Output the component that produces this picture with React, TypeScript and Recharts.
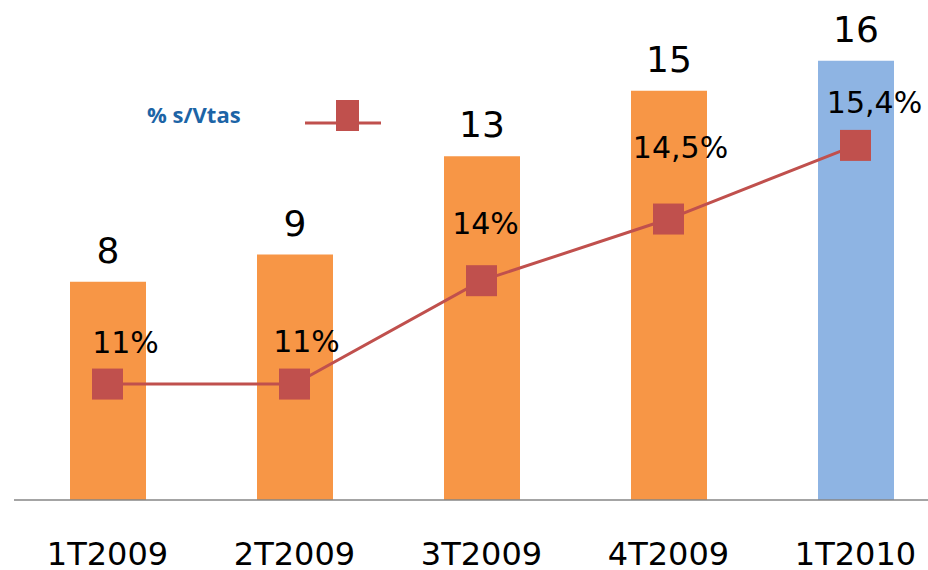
import React from 'react';
import { ComposedChart, Bar, Line, XAxis, YAxis, Cell, LabelList } from 'recharts';

const quarters = ['1T2009', '2T2009', '3T2009', '4T2009', '1T2010'];
// bar heights; labels are shown rounded to whole numbers
const salesValues = [8, 9, 12.6, 15, 16.1];
// plotted height of the % line (same scale as the bars)
const lineLevels = [4.25, 4.25, 8.04, 10.3, 13.0];
const pctLabels = ['11%', '11%', '14%', '14,5%', '15,4%'];

const ORANGE = '#F79646';
const BLUE = '#8EB4E3';
const RED = '#C0504D';
const FONT = '"DejaVu Sans", sans-serif';

const data = quarters.map((q, i) => ({
  name: q,
  value: salesValues[i],
  pct: lineLevels[i],
}));

// label nudges, as in the original slide
const labelDx = [18, 12, 4, 12, 19];
const labelDy = [-31, -32, -47, -61, -32];

const SquareDot = (props: any) => {
  const { cx, cy } = props;
  if (cx == null || cy == null) return null;
  return <rect x={cx - 15.5} y={cy - 15.5} width={31} height={31} fill={RED} />;
};

const PctLabel = (props: any) => {
  const { x, y, index } = props;
  return (
    <text
      x={x + labelDx[index]}
      y={y + labelDy[index]}
      textAnchor="middle"
      fontSize={30}
      fontFamily={FONT}
      fill="#000"
    >
      {pctLabels[index]}
    </text>
  );
};

const QuarterTick = (props: any) => {
  const { x, y, payload } = props;
  return (
    <text x={x} y={y + 57} textAnchor="middle" fontSize={32} fontFamily={FONT} fill="#000">
      {payload.value}
    </text>
  );
};

export default function App() {
  return (
    <div style={{ position: 'absolute', left: 0, top: 0, width: 928, height: 570, background: '#fff' }}>
      <ComposedChart
        width={928}
        height={570}
        data={data}
        margin={{ top: 9, right: -21, bottom: 0, left: 14 }}
      >
        <XAxis
          dataKey="name"
          height={70}
          tickLine={false}
          tickSize={6}
          tickMargin={2}
          axisLine={{ stroke: '#868686', strokeWidth: 1.5 }}
          tick={<QuarterTick />}
          interval={0}
        />
        <YAxis yAxisId="left" hide domain={[0, 18]} />
        <YAxis yAxisId="right" hide domain={[0, 18]} orientation="right" />
        <Bar yAxisId="left" dataKey="value" barSize={76} isAnimationActive={false}>
          {data.map((d, i) => (
            <Cell key={d.name} fill={i === data.length - 1 ? BLUE : ORANGE} />
          ))}
          <LabelList
            dataKey="value"
            position="top"
            offset={19}
            fill="#000"
            fontSize={36}
            fontFamily={FONT}
            formatter={(v: any) => Math.round(Number(v))}
          />
        </Bar>
        <Line
          yAxisId="right"
          dataKey="pct"
          stroke={RED}
          strokeWidth={3}
          dot={<SquareDot />}
          activeDot={false}
          isAnimationActive={false}
        >
          <LabelList dataKey="pct" content={<PctLabel />} />
        </Line>
      </ComposedChart>

      {/* legend */}
      <div
        style={{
          position: 'absolute',
          left: 147,
          top: 100,
          height: 28,
          display: 'flex',
          alignItems: 'center',
          fontFamily: '"Open Sans", sans-serif',
          fontWeight: 700,
          fontSize: 22,
          color: '#1C64A6',
          whiteSpace: 'nowrap',
        }}
      >
        % s/Vtas
      </div>
      <svg style={{ position: 'absolute', left: 305, top: 100 }} width={76} height={32}>
        <line x1={0} y1={23} x2={76} y2={23} stroke={RED} strokeWidth={3} />
        <rect x={31} y={0} width={23} height={31} fill={RED} />
      </svg>
    </div>
  );
}
